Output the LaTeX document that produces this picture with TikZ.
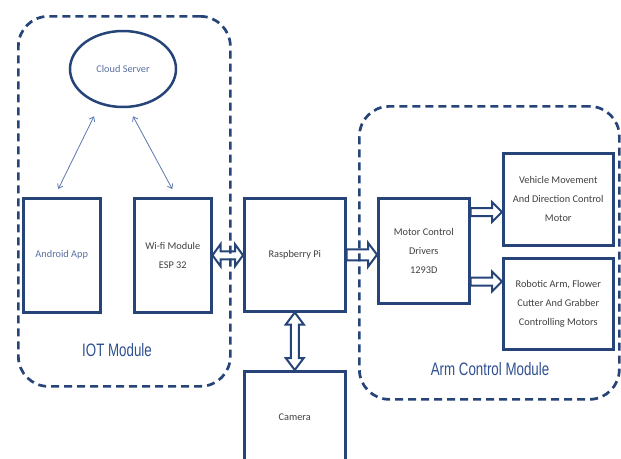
\documentclass[tikz,border=0pt]{standalone}
\usepackage{fontspec}
\setmainfont{Carlito}
\newfontfamily\labelfont[FakeStretch=0.74]{Liberation Sans}
\usetikzlibrary{calc,arrows.meta,shapes.geometric}
\definecolor{navy}{RGB}{38,68,120}
\definecolor{txtgrey}{RGB}{64,64,64}
\definecolor{txtblue}{RGB}{90,112,160}
\definecolor{lblblue}{RGB}{47,80,145}
\definecolor{thinblue}{RGB}{90,120,175}
\begin{document}
\begin{tikzpicture}[x=1pt,y=-1pt,
  region/.style={draw=navy, line width=2.7pt, dash pattern=on 8pt off 5pt, rounded corners=30pt, anchor=north west, inner sep=0pt},
  box/.style={draw=navy, line width=2.5pt, anchor=north west, inner sep=0pt, align=center, text=txtgrey, font=\fontsize{10.3}{19}\selectfont},
  regionlabel/.style={font=\labelfont\fontsize{18}{20}\selectfont, text=lblblue},
  hollow/.style={draw=navy, line width=2pt, line join=miter},
  thinarrow/.style={draw=thinblue, line width=0.8pt, {Straight Barb[length=4pt,width=6pt]}-{Straight Barb[length=4pt,width=6pt]}}
]
\clip (0,0) rectangle (621,458);
\fill[white] (0,0) rectangle (621,458);

% regions
\node[region, minimum width=212pt, minimum height=370pt] (iot) at (17,15) {};
\node[region, minimum width=260pt, minimum height=293pt] (arm) at (358,105) {};
\node[regionlabel] (iotlbl) at (117,350) {IOT Module};
\node[regionlabel] (armlbl) at (490,369) {Arm Control Module};

% cloud
\node[ellipse, draw=navy, line width=2.5pt, minimum width=106pt, minimum height=76pt, inner sep=0pt, text=txtblue, font=\fontsize{10.3}{12}\selectfont] (cloud) at (123,69) {Cloud Server};

% boxes
\node[box, minimum width=77pt, minimum height=114pt, text=txtblue] (android) at (22,197) {Android App};
\node[box, minimum width=77pt, minimum height=114pt] (wifi) at (133,197) {Wi-fi Module\\ESP 32};
\node[box, minimum width=101pt, minimum height=113pt] (rpi) at (243,197) {Raspberry Pi};
\node[box, minimum width=101pt, minimum height=92pt] (camera) at (243,370) {Camera};
\node[box, minimum width=91pt, minimum height=105pt] (motor) at (377,197) {Motor Control\\Drivers\\1293D};
\node[box, minimum width=110pt, minimum height=92pt] (vehicle) at (502,152) {Vehicle Movement\\And Direction Control\\Motor};
\node[box, minimum width=110pt, minimum height=91pt] (robotic) at (502,257) {Robotic Arm, Flower\\Cutter And Grabber\\Controlling Motors};

% thin arrows cloud <-> boxes
\draw[thinarrow] ($(cloud.south)+(-29,8)$) -- ($(android.north)+(-3.5,-8)$);
\draw[thinarrow] ($(cloud.south)+(10,8)$) -- ($(wifi.north)+(-0.5,-8)$);

% hollow double arrow wifi <-> rpi
\draw[hollow] let \p1=(wifi.east), \p2=(rpi.west) in
  (\x1,\y1) -- (\x1+8pt,\y1+11pt) -- (\x1+8pt,\y1+4pt) -- (\x2-8pt,\y1+4pt) -- (\x2-8pt,\y1+11pt) -- (\x2,\y1)
  -- (\x2-8pt,\y1-11pt) -- (\x2-8pt,\y1-4pt) -- (\x1+8pt,\y1-4pt) -- (\x1+8pt,\y1-11pt) -- cycle;

% hollow double arrow rpi <-> camera
\draw[hollow] let \p1=(rpi.south), \p2=(camera.north) in
  (\x1,\y1) -- (\x1+9pt,\y1-12pt) -- (\x1+4pt,\y1-12pt) -- (\x1+4pt,\y2+12pt) -- (\x1+9pt,\y2+12pt) -- (\x1,\y2)
  -- (\x1-9pt,\y2+12pt) -- (\x1-4pt,\y2+12pt) -- (\x1-4pt,\y1-12pt) -- (\x1-9pt,\y1-12pt) -- cycle;

% hollow arrow rpi -> motor
\draw[hollow] let \p1=(rpi.east), \p2=(motor.west) in
  (\x1,\y1+5.5pt) -- (\x2-9pt,\y1+5.5pt) -- (\x2-9pt,\y1+12pt) -- (\x2,\y1) -- (\x2-9pt,\y1-12pt) -- (\x2-9pt,\y1-5.5pt) -- (\x1,\y1-5.5pt) -- cycle;

% hollow arrows motor -> vehicle / robotic
\coordinate (m1) at ($(motor.north east)+(0,15)$);
\coordinate (m2) at ($(motor.south east)+(0,-23)$);
\draw[hollow] let \p1=(m1), \p2=(vehicle.west) in
  (\x1,\y1+4pt) -- (\x2-10pt,\y1+4pt) -- (\x2-10pt,\y1+10pt) -- (\x2,\y1) -- (\x2-10pt,\y1-10pt) -- (\x2-10pt,\y1-4pt) -- (\x1,\y1-4pt) -- cycle;
\draw[hollow] let \p1=(m2), \p2=(robotic.west) in
  (\x1,\y1+4pt) -- (\x2-10pt,\y1+4pt) -- (\x2-10pt,\y1+10pt) -- (\x2,\y1) -- (\x2-10pt,\y1-10pt) -- (\x2-10pt,\y1-4pt) -- (\x1,\y1-4pt) -- cycle;
\end{tikzpicture}
\end{document}
